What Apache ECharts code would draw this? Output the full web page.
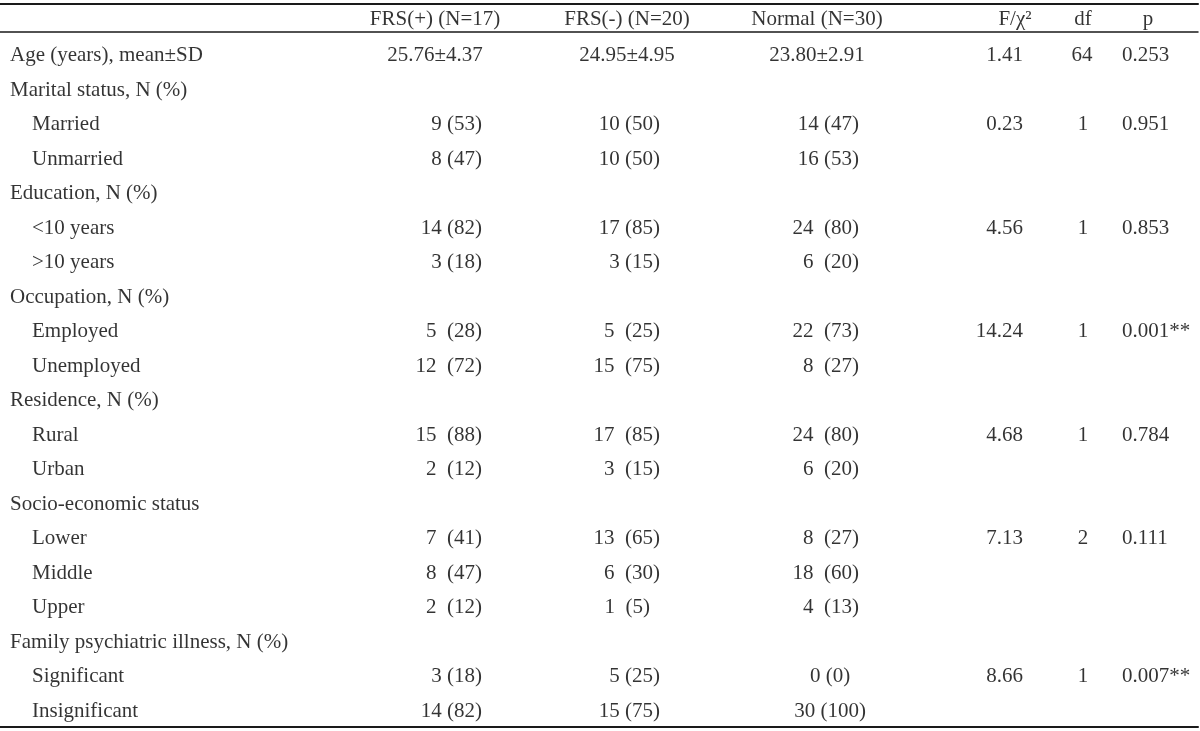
<!DOCTYPE html>
<html><head><meta charset="utf-8">
<script src="https://cdn.jsdelivr.net/npm/echarts@6/dist/echarts.min.js"></script>
<style>html,body{margin:0;padding:0;background:#fff}#c{width:1200px;height:731px}</style>
</head><body><div id="c"></div>
<script>
// ---- data ----
const headers = ['', 'FRS(+) (N=17)', 'FRS(-) (N=20)', 'Normal (N=30)', 'F/χ²', 'df', 'p'];
const rowLabels = ['Age (years), mean±SD', 'Marital status, N (%)', 'Married', 'Unmarried', 'Education, N (%)', '<10 years', '>10 years', 'Occupation, N (%)', 'Employed', 'Unemployed', 'Residence, N (%)', 'Rural', 'Urban', 'Socio-economic status', 'Lower', 'Middle', 'Upper', 'Family psychiatric illness, N (%)', 'Significant', 'Insignificant'];
const rowLevel = [0,0,1,1,0,1,1,0,1,1,0,1,1,0,1,1,1,0,1,1];
const frsPos = ['25.76±4.37', '', '9 (53)', '8 (47)', '', '14 (82)', '3 (18)', '', '5  (28)', '12  (72)', '', '15  (88)', '2  (12)', '', '7  (41)', '8  (47)', '2  (12)', '', '3 (18)', '14 (82)'];
const frsNeg = ['24.95±4.95', '', '10 (50)', '10 (50)', '', '17 (85)', '3 (15)', '', '5  (25)', '15  (75)', '', '17  (85)', '3  (15)', '', '13  (65)', '6  (30)', '1  (5)', '', '5 (25)', '15 (75)'];
const normal = ['23.80±2.91', '', '14 (47)', '16 (53)', '', '24  (80)', '6  (20)', '', '22  (73)', '8  (27)', '', '24  (80)', '6  (20)', '', '8  (27)', '18  (60)', '4  (13)', '', '0 (0)', '30 (100)'];
const fChi = ['1.41', '', '0.23', '', '', '4.56', '', '', '14.24', '', '', '4.68', '', '', '7.13', '', '', '', '8.66', ''];
const dfs = ['64', '', '1', '', '', '1', '', '', '1', '', '', '1', '', '', '2', '', '', '', '1', ''];
const pVals = ['0.253', '', '0.951', '', '', '0.853', '', '', '0.001**', '', '', '0.784', '', '', '0.111', '', '', '', '0.007**', ''];

// ---- layout / style ----
const FONT = 'Liberation Serif';
const FS = 21;
const COLOR = '#000';
const TOP = 21, BOTTOM_ROW = 711.5;
const HEADER_SHIFT = -1.5;
const columns = [
  {vals: rowLabels, cx: 100, firstAlign: 'left', firstX: 10, align: 'left', x: 10},
  {vals: frsPos, cx: 435, firstAlign: 'center', firstX: 435, align: 'right', x: 482},
  {vals: frsNeg, cx: 627, firstAlign: 'center', firstX: 627, align: 'right', x: 660},
  {vals: normal, cx: 817, firstAlign: 'center', firstX: 817, align: 'right', x: 859},
  {vals: fChi, cx: 1015, firstAlign: 'right', firstX: 1023, align: 'right', x: 1023},
  {vals: dfs, cx: 1083, firstAlign: 'center', firstX: 1082, align: 'center', x: 1083},
  {vals: pVals, cx: 1148, firstAlign: 'left', firstX: 1122, align: 'left', x: 1122}
];
// per-cell alignment overrides (column index, row index) -> style
const cellStyle = {
  '2,16': {align: 'right', x: 650},
  '3,18': {align: 'center', x: 830},
  '3,19': {align: 'center', x: 830}
};
const rowKeys = ['h'].concat(rowLabels.map((_, i) => 'r' + i));

const grids = [], xAxes = [], yAxes = [], series = [];
columns.forEach((col, ci) => {
  grids.push({left: col.cx - 50, width: 100, top: TOP, height: BOTTOM_ROW - TOP});
  xAxes.push({type: 'category', gridIndex: ci, data: ['c'], show: false});
  yAxes.push({type: 'category', gridIndex: ci, data: rowKeys, inverse: true, boundaryGap: false, show: false});
  const data = [];
  data.push({value: [0, 0], name: headers[ci], label: {align: 'center', offset: [0, HEADER_SHIFT]}});
  col.vals.forEach((t, ri) => {
    if (!t) return;
    let align, x;
    if (ri === 0) { align = col.firstAlign; x = col.firstX; }
    else { align = col.align; x = col.x; }
    const ov = cellStyle[ci + ',' + ri];
    if (ov) { align = ov.align; x = ov.x; }
    if (ci === 0 && rowLevel[ri] === 1) x += 22;
    data.push({value: [0, ri + 1], name: t, label: {align: align, offset: [x - col.cx, 0]}});
  });
  series.push({
    type: 'scatter', xAxisIndex: ci, yAxisIndex: ci, symbolSize: 0, silent: true,
    data: data,
    label: {show: true, position: 'inside', verticalAlign: 'middle', formatter: p => p.name,
      fontFamily: FONT, fontSize: FS, color: COLOR}
  });
});
// rule lines
const ruleColor = '#1a1a1a';
const gHead = grids.length;
grids.push({left: 0, right: 2, top: 4, height: 28});
xAxes.push({type: 'category', gridIndex: gHead, position: 'top', data: ['a'], axisLine: {show: true, onZero: false, lineStyle: {color: ruleColor, width: 2}}, axisTick: {show: false}, axisLabel: {show: false}});
xAxes.push({type: 'category', gridIndex: gHead, position: 'bottom', data: ['a'], axisLine: {show: true, onZero: false, lineStyle: {color: ruleColor, width: 1.5}}, axisTick: {show: false}, axisLabel: {show: false}});
yAxes.push({type: 'value', gridIndex: gHead, show: false});
const gBody = grids.length;
grids.push({left: 0, right: 2, top: 32, bottom: 4});
xAxes.push({type: 'category', gridIndex: gBody, position: 'bottom', data: ['a'], axisLine: {show: true, onZero: false, lineStyle: {color: ruleColor, width: 2}}, axisTick: {show: false}, axisLabel: {show: false}});
yAxes.push({type: 'value', gridIndex: gBody, show: false});

const chart = echarts.init(document.getElementById('c'), null, {renderer: 'canvas'});
chart.setOption({animation: false, grid: grids, xAxis: xAxes, yAxis: yAxes, series: series});
</script></body></html>
